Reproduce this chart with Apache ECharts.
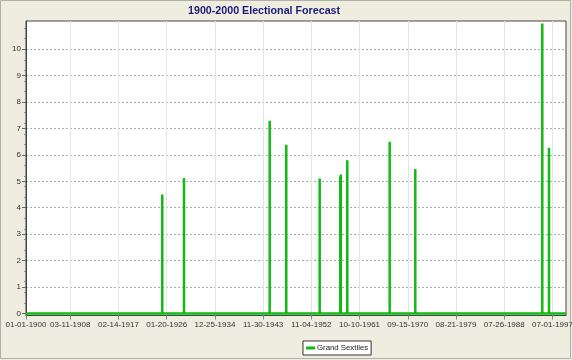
<!DOCTYPE html>
<html>
<head>
<meta charset="utf-8">
<script src="https://cdn.jsdelivr.net/npm/echarts@6/dist/echarts.min.js"></script>
<style>
html,body{margin:0;padding:0;background:#EEEDE0;}
#chart{width:572px;height:360px;}
</style>
</head>
<body>
<div id="chart"></div>
<script>
// Tick labels on the date axis (MM-DD-YYYY)
var tickLabels = ['01-01-1900','03-11-1908','02-14-1917','01-20-1926','12-25-1934','11-30-1943',
  '11-04-1952','10-10-1961','09-15-1970','08-21-1979','07-26-1988','07-01-1997'];
// Axis range
var axisStart = '1900-01-01';
var axisEnd = '2000-01-01';
// Grand Sextiles events: dates and values
var eventDates = ['1925-03-28','1929-04-05','1945-02-17','1948-03-14','1954-05-22','1958-03-15',
  '1958-04-20','1959-07-01','1967-05-08','1972-02-03','1995-08-11','1996-11-06'];
var eventValues = [4.50, 5.13, 7.29, 6.38, 5.11, 5.18, 5.26, 5.80, 6.50, 5.47, 10.98, 6.27];
var yTicks = [0,1,2,3,4,5,6,7,8,9,10];

function parseISO(s){ var p=s.split('-'); return Date.UTC(+p[0], +p[1]-1, +p[2]); }
function parseMDY(s){ var p=s.split('-'); return Date.UTC(+p[2], +p[0]-1, +p[1]); }

var tickVals = tickLabels.map(parseMDY);
var labelMap = {};
tickVals.forEach(function(v,i){ labelMap[v] = tickLabels[i]; });

var xMin = parseISO(axisStart), xMax = parseISO(axisEnd);
var seriesData = [[xMin, 0]];
eventDates.forEach(function(d,i){
  var t = parseISO(d);
  seriesData.push([t,0],[t,eventValues[i]],[t,0]);
});
seriesData.push([xMax, 0]);

var chart = echarts.init(document.getElementById('chart'), null, {renderer:'canvas'});
var font = 'Liberation Sans';
chart.setOption({
  backgroundColor: '#EEEDE0',
  animation: false,
  title: {
    text: '1900-2000 Electional Forecast',
    left: 188, top: 6, padding: 0,
    textStyle: {fontFamily: font, fontSize: 10.7, fontWeight: 'bold', color: '#1a1a78'}
  },
  legend: {
    left: 303, top: 341,
    backgroundColor: '#ffffff',
    borderColor: '#333333', borderWidth: 1, borderRadius: 0,
    padding: [3, 3, 3, 3],
    itemWidth: 9, itemHeight: 3, itemGap: 4,
    icon: 'rect',
    textStyle: {fontFamily: font, fontSize: 7.8, color: '#222', padding: [0,0,0,-3]},
    data: ['Grand Sextiles']
  },
  grid: {left: 26, right: 6, top: 21, bottom: 44.5, show: true, backgroundColor: '#ffffff',
         borderColor: '#444444', borderWidth: 1, outerBoundsMode: 'none', containLabel: false},
  xAxis: {
    type: 'value', min: xMin, max: xMax,
    axisLine: {show: true, onZero: false, lineStyle: {color: '#444', width: 1}},
    axisTick: {show: true, customValues: tickVals, length: 4, lineStyle: {color: '#888'}},
    axisLabel: {customValues: tickVals, fontFamily: font, fontSize: 8, color: '#333', margin: 5,
      formatter: function(v){ return labelMap[v] || ''; }},
    splitLine: {show: true, lineStyle: {color: '#e4e4e4', width: 1}}
  },
  yAxis: {
    type: 'value', min: -0.08, max: 11.07,
    axisLine: {show: true, onZero: false, lineStyle: {color: '#444', width: 1}},
    axisTick: {show: true, customValues: yTicks, length: 4, lineStyle: {color: '#666'}},
    minorTick: {show: true, splitNumber: 5, length: 2, lineStyle: {color: '#888'}},
    axisLabel: {customValues: yTicks, fontFamily: font, fontSize: 8, color: '#333', margin: 5},
    splitLine: {show: true, lineStyle: {color: '#aaaaaa', type: [2,2], width: 1}}
  },
  series: [{
    name: 'Grand Sextiles', type: 'line', data: seriesData,
    showSymbol: false, symbol: 'none',
    lineStyle: {color: '#11bb11', width: 2.5},
    itemStyle: {color: '#11bb11'}
  }],
  graphic: [{
    type: 'rect', shape: {x: 0.5, y: 0.5, width: 570, height: 358},
    style: {fill: 'none', stroke: '#b0b0a8', lineWidth: 1}, silent: true
  }]
});
</script>
</body>
</html>
